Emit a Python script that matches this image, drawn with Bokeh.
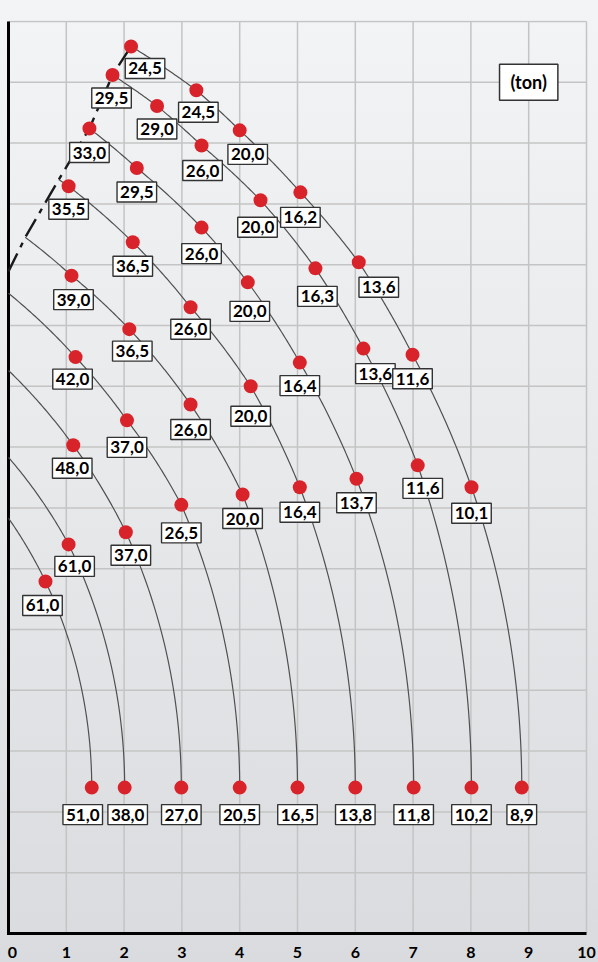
import numpy as np
from bokeh.plotting import figure
from bokeh.models import Label, Range1d
from bokeh.core.properties import value
from bokeh.embed import file_html
from bokeh.resources import INLINE

# ---------------- data ----------------
x_ticks = [0, 1, 2, 3, 4, 5, 6, 7, 8, 9, 10]
x_tick_labels = ["0", "1", "2", "3", "4", "5", "6", "7", "8", "9", "10"]
y_grid = list(range(0, 16))

# start of every boom curve (on the left axis or on the dashed limit line)
start_r = [0.00, 0.00, 0.00, 0.00, 0.29, 0.87, 1.40, 1.80, 2.12]
start_h = [6.83, 7.83, 9.26, 10.53, 11.45, 12.40, 13.24, 14.12, 14.59]

# load points per boom curve: radius (m), height (m), load (t)
radius = [
    [0.64, 1.44],
    [1.04, 2.01],
    [1.12, 2.03, 2.99],
    [1.16, 2.05, 2.99, 4.00],
    [1.09, 2.09, 3.15, 4.05, 5.00],
    [1.04, 2.15, 3.15, 4.19, 5.04, 6.00],
    [1.40, 2.22, 3.34, 4.14, 5.04, 6.02, 7.01],
    [1.80, 2.57, 3.34, 4.36, 5.31, 6.14, 7.08, 8.01],
    [2.12, 3.25, 4.00, 5.05, 6.06, 6.99, 8.01, 8.88],
]
height = [
    [5.79, 2.40],
    [6.40, 2.40],
    [8.03, 6.60, 2.40],
    [9.48, 8.44, 7.05, 2.40],
    [10.82, 9.94, 8.70, 7.22, 2.40],
    [12.29, 11.37, 10.30, 9.00, 7.34, 2.40],
    [13.24, 12.59, 11.61, 10.71, 9.39, 7.48, 2.40],
    [14.12, 13.61, 12.96, 12.06, 10.94, 9.62, 7.70, 2.40],
    [14.59, 13.87, 13.21, 12.19, 11.04, 9.52, 7.34, 2.40],
]
load = [
    ["61,0", "51,0"],
    ["61,0", "38,0"],
    ["48,0", "37,0", "27,0"],
    ["42,0", "37,0", "26,5", "20,5"],
    ["39,0", "36,5", "26,0", "20,0", "16,5"],
    ["35,5", "36,5", "26,0", "20,0", "16,4", "13,8"],
    ["33,0", "29,5", "26,0", "20,0", "16,4", "13,7", "11,8"],
    ["29,5", "29,0", "26,0", "20,0", "16,3", "13,6", "11,6", "10,2"],
    ["24,5", "24,5", "20,0", "16,2", "13,6", "11,6", "10,1", "8,9"],
]

# dashed boom-angle limit line
limit_r = [0.00, 0.29, 0.87, 1.40, 1.80, 2.12]
limit_h = [10.89, 11.45, 12.40, 13.24, 14.12, 14.59]

# ---------------- label placement (screen px, right / down) ----------------
label_dx = [
    [-3, -9],
    [6, 3],
    [-1, 5, 0],
    [-3, 0, 0, 0],
    [2, 3, 0, 0, 0],
    [0, 0, 0, 0, 0, 0],
    [0, 0, 0, 2, 0, 0, 0],
    [-1, 0, 1, -3, 2, 12, 5, 0],
    [14, 2, 8, 0, 20, 0, 0, 0],
]
label_dy = [
    [24, 27],
    [22, 27],
    [23, 23, 27],
    [22, 27, 28, 27],
    [24, 22, 25, 24, 27],
    [23, 24, 22, 30, 25, 27],
    [24, 24, 26, 29, 23, 24, 27],
    [23, 23, 25, 27, 28, 25, 23, 27],
    [22, 22, 24, 25, 25, 24, 26, 27],
]
tick_label_dx = [4, 0, 0, 0, 0, 0, 0, 0, 0, 0, 0]

# ---------------- layout ----------------
W, H = 598, 962
LEFT, TOP = 6, 20            # frame offsets in px
PX_X, PX_Y = 57.8, 60.8      # px per unit
X0_PX, Y0_PX = 8, 933        # where (0, 0) lies on the page


def boom_path(xs, ys):
    """Arc segments (centred on the base level) through consecutive points."""
    yb = ys[-1]
    px, py = [xs[0]], [ys[0]]
    for x1, y1, x2, y2 in zip(xs[:-1], ys[:-1], xs[1:], ys[1:]):
        if abs(x2 - x1) < 1e-9:
            continue
        a = (x2 ** 2 - x1 ** 2 + (y2 - yb) ** 2 - (y1 - yb) ** 2) / (2 * (x2 - x1))
        if a > min(x1, x2) - 0.5:
            px.append(x2)
            py.append(y2)
            continue
        r = np.hypot(x1 - a, y1 - yb)
        t1 = np.arctan2(y1 - yb, x1 - a)
        t2 = np.arctan2(y2 - yb, x2 - a)
        t = np.linspace(t1, t2, 40)[1:]
        px += list(a + r * np.cos(t))
        py += list(yb + r * np.sin(t))
    return px, py


FONT = value("Lato")

x_start = (LEFT - X0_PX) / PX_X
x_end = (W - X0_PX) / PX_X
y_start = -(H - Y0_PX) / PX_Y
y_end = (Y0_PX - TOP) / PX_Y

p = figure(width=W, height=H, x_range=Range1d(x_start, x_end), y_range=Range1d(y_start, y_end),
           output_backend="svg", toolbar_location=None,
           min_border_left=LEFT, min_border_right=0, min_border_top=TOP,
           min_border_bottom=0)
p.border_fill_color = None
p.background_fill_color = None
p.styles = {"background": "linear-gradient(to bottom, #f3f4f6 0%, #e9eaec 45%, #dadbde 100%)"}
p.outline_line_color = None
p.xaxis.visible = False
p.yaxis.visible = False
p.grid.visible = False

# grid lines
gx_max, gy_max = x_ticks[-1], y_grid[-1]
p.segment(x0=x_ticks, y0=[0] * len(x_ticks), x1=x_ticks, y1=[gy_max] * len(x_ticks),
          line_color="#c4c4c4", line_width=1.5)
p.segment(x0=[0] * len(y_grid), y0=y_grid, x1=[gx_max] * len(y_grid), y1=y_grid,
          line_color="#c4c4c4", line_width=1.5)

# axes lines
p.line([0, 0, gx_max], [gy_max, 0, 0], line_color="black", line_width=3, line_join="miter")

# tick labels
p.text(x=x_ticks, y=[0] * len(x_ticks), text=x_tick_labels, x_offset=tick_label_dx,
       y_offset=19, text_align="center", text_baseline="middle",
       text_font=FONT, text_font_style="bold", text_font_size="16px", text_color="black")

# boom curves
for i in range(len(radius)):
    xs = [start_r[i]] + radius[i]
    ys = [start_h[i]] + height[i]
    cx, cy = boom_path(xs, ys)
    p.line(cx, cy, line_color="#505050", line_width=1.2)

# dashed limit line
p.line(limit_r, limit_h, line_color="#1a1a1a", line_width=2.4, line_dash="20 7 5 7")

# points
all_r = [v for row in radius for v in row]
all_h = [v for row in height for v in row]
all_t = [v for row in load for v in row]
all_dx = [v for row in label_dx for v in row]
all_dy = [v for row in label_dy for v in row]

p.scatter(all_r, all_h, size=14, fill_color="#d9232b", line_color=None)

p.text(x=all_r, y=all_h, text=all_t, x_offset=all_dx, y_offset=all_dy,
       text_font=FONT, text_font_style="bold", text_font_size="17px",
       text_color="black", text_align="center", text_baseline="middle",
       background_fill_color="white", border_line_color="#333333",
       border_line_width=1.4, padding=(3, 4))

p.add_layout(Label(x=9, y=14, text="(ton)", text_align="center", text_baseline="middle",
                   text_font="Lato", text_font_style="bold", text_font_size="18px",
                   text_color="black", background_fill_color="white",
                   border_line_color="#333333", border_line_width=1.5, padding=(11, 7)))

open("out.html", "w").write(file_html(p, INLINE))
